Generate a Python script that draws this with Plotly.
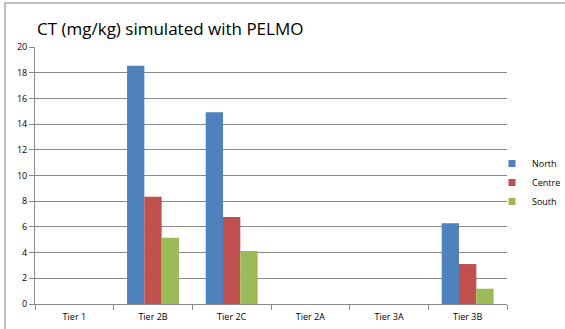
import plotly.graph_objects as go

categories = ["Tier 1", "Tier 2B", "Tier 2C", "Tier 2A", "Tier 3A", "Tier 3B"]
north = [0, 18.55, 14.92, 0, 0, 6.28]
centre = [0, 8.35, 6.77, 0, 0, 3.11]
south = [0, 5.16, 4.12, 0, 0, 1.19]
y_ticks = [0, 2, 4, 6, 8, 10, 12, 14, 16, 18, 20]

colors = {"North": "#4F81BD", "Centre": "#C0504D", "South": "#9BBB59"}

fig = go.Figure()
for name, vals in [("North", north), ("Centre", centre), ("South", south)]:
    fig.add_trace(go.Bar(x=categories, y=vals, name=name, showlegend=False,
                         marker=dict(color=colors[name], line=dict(width=0))))
# legend entries (small square swatches)
for name in ["North", "Centre", "South"]:
    fig.add_trace(go.Scatter(x=[None], y=[None], mode="markers", name=name,
                             marker=dict(symbol="square", size=7, color=colors[name])))

L, R, T, B = 35, 507, 47, 304
W, H = R - L, B - T

fig.update_layout(
    width=565, height=329,
    margin=dict(l=L, r=565 - R, t=T, b=329 - B, autoexpand=False),
    paper_bgcolor="white", plot_bgcolor="white",
    barmode="group", bargap=0.34, bargroupgap=0,
    font=dict(family="Open Sans, DejaVu Sans", size=9, color="#000"),
    title=dict(text="CT (mg/kg) simulated with PELMO", x=37/565, xanchor="left",
               xref="container", yref="container", pad=dict(l=0, r=0, t=0, b=0),
               y=1 - 29/329, yanchor="middle",
               font=dict(family="Open Sans", size=17, color="#000")),
    legend=dict(x=(492 - L) / W, xanchor="left", y=1 - (149 - T) / H, yanchor="top",
                font=dict(size=9), itemwidth=30, tracegroupgap=0,
                bgcolor="rgba(0,0,0,0)"),
    showlegend=True,
)
fig.update_yaxes(range=[0, 20], tickvals=y_ticks, showgrid=True, gridcolor="#8A8A8A",
                 gridwidth=1, showline=True, linecolor="#8A8A8A", ticks="outside",
                 ticklen=5, tickcolor="#8A8A8A", tickfont=dict(size=9), zeroline=False,
                 automargin=False)
fig.update_xaxes(showline=True, linecolor="#8A8A8A", ticks="outside", tickson="boundaries",
                 ticklen=5, tickcolor="#8A8A8A", tickfont=dict(size=9), showgrid=False,
                 automargin=False, ticklabelstandoff=4)

fig.add_shape(type="rect", xref="paper", yref="paper",
              x0=(5 - L) / W, x1=(575 - L) / W, y0=-(340 - B) / H, y1=(B - 3) / H,
              line=dict(color="#BFBFBF", width=2), fillcolor="rgba(0,0,0,0)", layer="below")

fig.write_html("out.html", config={"displayModeBar": False},
               post_script="document.body.style.margin='0';document.body.style.overflow='hidden';")
